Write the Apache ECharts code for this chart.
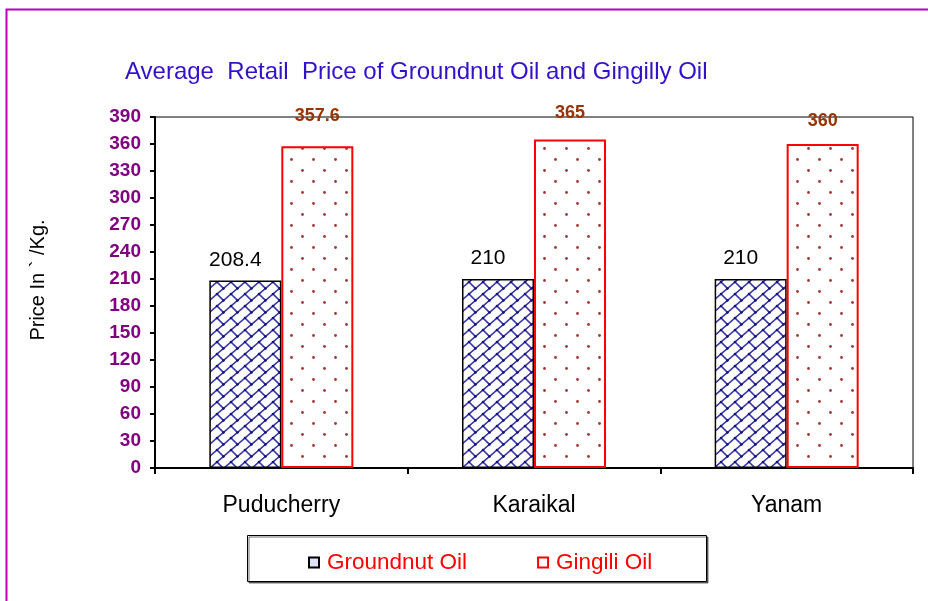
<!DOCTYPE html>
<html>
<head>
<meta charset="utf-8">
<script src="https://cdn.jsdelivr.net/npm/echarts@6/dist/echarts.min.js"></script>
<style>
html,body{margin:0;padding:0;background:#fff;}
#chart{width:928px;height:601px;}
</style>
</head>
<body>
<div id="chart"></div>
<script>
// ---- data ----
const categories = ['Puducherry', 'Karaikal', 'Yanam'];
const groundnutOil = [208.4, 210, 210];
const gingiliOil = [357.6, 365, 360];
const seriesNames = ['Groundnut Oil', 'Gingili Oil'];
const titleText = 'Average  Retail  Price of Groundnut Oil and Gingilly Oil';
const yAxisName = 'Price In ` /Kg.';
// label gap above each Gingili bar (styling)
const gingiliLabelGap = [21, 17, 14];

// ---- patterns ----
function brickPattern() {
  const W = 14, H = 12;
  const c = document.createElement('canvas');
  c.width = W; c.height = H;
  const g = c.getContext('2d');
  g.fillStyle = '#fff'; g.fillRect(0, 0, W, H);
  g.strokeStyle = '#3535a8'; g.lineWidth = 1.6; g.lineCap = 'round';
  for (let dx = -1; dx <= 1; dx++) {
    for (let dy = -1; dy <= 1; dy++) {
      const ox = dx * W, oy = dy * H;
      g.beginPath(); g.moveTo(ox, oy + H); g.lineTo(ox + W, oy); g.stroke();
      g.beginPath(); g.moveTo(ox + 7, oy + 6); g.lineTo(ox + 13.46, oy + 12.46); g.stroke();
    }
  }
  g.fillStyle = '#14147a';
  for (let dx = -1; dx <= 1; dx++) {
    for (let dy = -1; dy <= 1; dy++) {
      const ox = dx * W, oy = dy * H;
      [[7, 6], [13.46, 12.46]].forEach(p => {
        g.beginPath(); g.arc(ox + p[0], oy + p[1], 1.3, 0, Math.PI * 2); g.fill();
      });
    }
  }
  return c;
}
function dotPattern() {
  const c = document.createElement('canvas');
  c.width = 22; c.height = 22;
  const g = c.getContext('2d');
  g.fillStyle = '#fff'; g.fillRect(0, 0, 22, 22);
  g.fillStyle = '#a53535';
  [[5.5, 5.5], [16.5, 16.5]].forEach(p => {
    g.beginPath(); g.arc(p[0], p[1], 1.4, 0, Math.PI * 2); g.fill();
  });
  return c;
}

const FONT = 'Liberation Sans, Arial, sans-serif';
const chart = echarts.init(document.getElementById('chart'), null, {renderer: 'canvas'});
const option = {
  animation: false,
  backgroundColor: '#ffffff',
  title: {
    text: titleText,
    left: 120, top: 55,
    textStyle: {color: '#3311cc', fontFamily: FONT, fontSize: 24, fontWeight: 'normal'}
  },
  grid: {
    left: 155, right: 15, top: 117, bottom: 133,
    show: true, borderColor: '#000', borderWidth: 1, backgroundColor: 'transparent'
  },
  legend: {
    data: [
      {name: seriesNames[0], icon: 'rect', itemStyle: {color: '#dfe3f5', borderColor: '#000', borderWidth: 2}},
      {name: seriesNames[1], icon: 'rect', itemStyle: {color: '#fff', borderColor: '#ff0000', borderWidth: 2}}
    ],
    left: 303, top: 546,
    itemWidth: 10, itemHeight: 10, itemGap: 70,
    selectedMode: false,
    textStyle: {color: '#ff0000', fontFamily: FONT, fontSize: 22.5, padding: [0, 0, 0, 3]}
  },
  xAxis: {
    type: 'category',
    data: categories,
    axisLine: {lineStyle: {color: '#000', width: 2}},
    axisTick: {show: true, length: 6, lineStyle: {color: '#000', width: 2}},
    axisLabel: {color: '#000', fontFamily: FONT, fontSize: 23, margin: 26}
  },
  yAxis: {
    type: 'value', min: 0, max: 390, interval: 30,
    axisLine: {show: true, lineStyle: {color: '#000', width: 2}},
    axisTick: {show: true, length: 5, lineStyle: {color: '#000', width: 2}},
    splitLine: {show: false},
    axisLabel: {color: '#800080', fontWeight: 'bold', fontFamily: FONT, fontSize: 19, margin: 14}
  },
  series: [
    {
      name: seriesNames[0], type: 'bar', data: groundnutOil,
      barWidth: 72, barGap: '0%',
      itemStyle: {color: {image: brickPattern(), repeat: 'repeat'}, borderColor: '#000', borderWidth: 1.5},
      label: {show: true, position: 'top', distance: 10, offset: [-10, 0], color: '#000',
        fontFamily: FONT, fontSize: 21}
    },
    {
      name: seriesNames[1], type: 'bar',
      data: gingiliOil.map((v, i) => ({value: v, label: {distance: gingiliLabelGap[i]}})),
      barWidth: 72,
      itemStyle: {color: {image: dotPattern(), repeat: 'repeat'}, borderColor: '#ff0000', borderWidth: 2},
      label: {show: true, position: 'top', color: '#993300', fontWeight: 'bold',
        fontFamily: FONT, fontSize: 18}
    }
  ],
  graphic: [
    {type: 'rect', left: 4, top: 7, silent: true, z: -10,
      shape: {x: 0, y: 0, width: 1000, height: 1000},
      style: {fill: 'none', stroke: '#bb00bb', lineWidth: 2}},
    {type: 'rect', left: 247, top: 535, silent: true, z: -5,
      shape: {x: 0, y: 0, width: 459, height: 46},
      style: {fill: '#fff', stroke: '#000', lineWidth: 1, shadowColor: 'rgba(0,0,0,0.55)', shadowOffsetX: 1.5, shadowOffsetY: 1.5, shadowBlur: 0}},
    {type: 'text', x: 38, y: 280, rotation: Math.PI / 2, silent: true,
      style: {text: yAxisName, fill: '#000', font: '20px "Liberation Sans", Arial, sans-serif', align: 'center', verticalAlign: 'middle'}}
  ]
};
chart.setOption(option);
</script>
</body>
</html>
